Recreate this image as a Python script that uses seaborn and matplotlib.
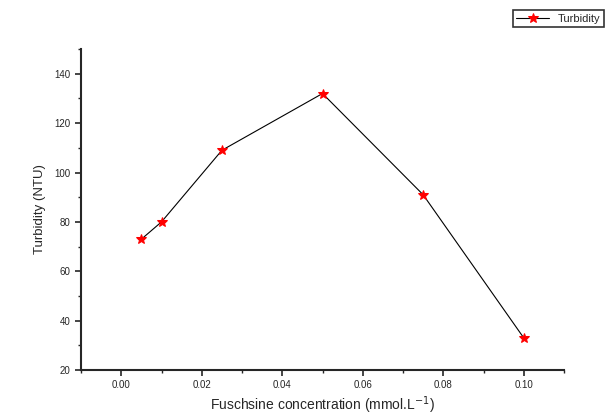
import numpy as np
import pandas as pd
import matplotlib
matplotlib.use('Agg')
import matplotlib.pyplot as plt
import seaborn as sns
from matplotlib.ticker import MultipleLocator

conc = [0.005, 0.01, 0.025, 0.05, 0.075, 0.10]
turb = [73, 80, 109, 132, 91, 33]

df = pd.DataFrame({'conc': conc, 'turb': turb})

sns.set_style('ticks')
plt.rcParams['font.family'] = ['Liberation Sans', 'DejaVu Sans']

fig = plt.figure(figsize=(6.06, 4.16), dpi=100)
ax = fig.add_axes([0.1337, 0.1106, 0.797, 0.7714])

sns.lineplot(x='conc', y='turb', data=df, ax=ax, color='black', lw=0.8,
             label='Turbidity', marker='*', markersize=7,
             markerfacecolor='red', markeredgecolor='red')

ax.set_xlim(-0.01, 0.11)
ax.set_ylim(20, 150)
ax.xaxis.set_minor_locator(MultipleLocator(0.01))
ax.yaxis.set_minor_locator(MultipleLocator(10))
ax.set_xticks(np.arange(0, 0.101, 0.02))
ax.set_xticklabels(['0.00', '0.02', '0.04', '0.06', '0.08', '0.10'])
ax.set_yticks(np.arange(20, 141, 20))
ax.tick_params(which='major', direction='out', length=4, width=1.2, labelsize=7)
ax.tick_params(which='minor', direction='out', length=2.5, width=1)
for s in ['left', 'bottom']:
    ax.spines[s].set_linewidth(1.5)
sns.despine(ax=ax)

ax.set_xlabel('Fuschsine concentration (mmol.L$^{-1}$)', fontsize=10, labelpad=3)
ax.set_ylabel('Turbidity (NTU)', fontsize=9.5, labelpad=6)

leg = ax.legend(loc='upper right', bbox_to_anchor=(0.997, 0.975), bbox_transform=fig.transFigure,
                fontsize=8, frameon=True, fancybox=False, handlelength=3.0,
                borderpad=0.3, edgecolor='black', borderaxespad=0)
leg.get_frame().set_linewidth(1.2)

fig.savefig('out.png', dpi=100)
